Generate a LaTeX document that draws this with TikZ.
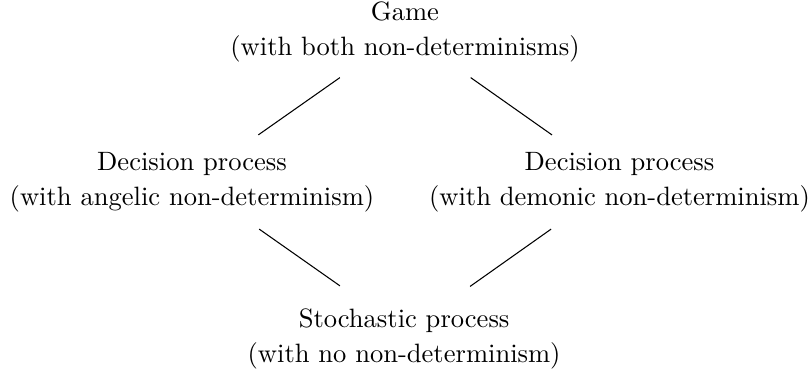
\documentclass[tikz,border=0pt]{standalone}
\usetikzlibrary{calc}
\begin{document}
\begin{tikzpicture}[x=1.13pt,y=1.13pt,
  level/.style={align=center,inner sep=0pt,font=\fontsize{10pt}{13.3pt}\selectfont},
  link/.style={line width=0.4pt}]
\useasboundingbox (0,0) rectangle (269.67,123.67);
% the four levels of the hierarchy
\node[level] (game)  at (135.0,113.0) {Game\\(with both non-determinisms)};
\node[level] (angel) at (64.0,63.0)   {Decision process\\(with angelic non-determinism)};
\node[level] (demon) at (206.5,63.0)  {Decision process\\(with demonic non-determinism)};
\node[level] (stoch) at (134.7,10.8)  {Stochastic process\\(with no non-determinism)};
% connecting lines
\draw[link] ($(game)+(-21.7,-15.2)$) -- ($(angel)+(22.1,15.7)$);
\draw[link] ($(game)+(21.9,-15.2)$) -- ($(demon)+(-22.5,15.7)$);
\draw[link] ($(angel)+(22.4,-15.7)$) -- ($(stoch)+(-21.4,17.6)$);
\draw[link] ($(demon)+(-22.8,-15.7)$) -- ($(stoch)+(22,17.4)$);
\end{tikzpicture}
\end{document}
